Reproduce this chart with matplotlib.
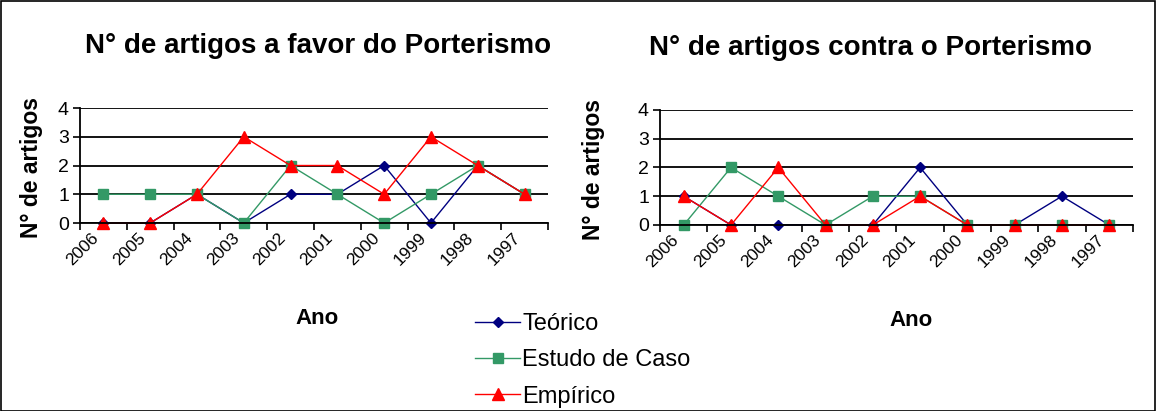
import numpy as np
import matplotlib
matplotlib.use('Agg')
import matplotlib.pyplot as plt
from matplotlib.patches import Rectangle

plt.rcParams['font.family'] = ['Liberation Sans', 'DejaVu Sans']

anos = ['2006', '2005', '2004', '2003', '2002', '2001', '2000', '1999', '1998', '1997']

# a favor
fav_teorico = [0, 0, 1, 0, 1, 1, 2, 0, 2, 1]
fav_caso = [1, 1, 1, 0, 2, 1, 0, 1, 2, 1]
fav_empirico = [0, 0, 1, 3, 2, 2, 1, 3, 2, 1]

# contra
con_teorico = [1, 0, 0, 0, 0, 2, 0, 0, 1, 0]
con_caso = [0, 2, 1, 0, 1, 1, 0, 0, 0, 0]
con_empirico = [1, 0, 2, 0, 0, 1, 0, 0, 0, 0]

cor_teo = '#000080'
cor_caso = '#339966'
cor_emp = '#FF0000'

fig = plt.figure(figsize=(11.56, 4.11), dpi=100)
fig.patches.append(Rectangle((0.0008, 0.0), 0.998, 0.997, transform=fig.transFigure,
                             fill=False, edgecolor='black', linewidth=1.2))

ax1 = fig.add_axes([0.0692, 0.4574, 0.4048, 0.2798])
ax2 = fig.add_axes([0.571, 0.4526, 0.409, 0.2798])


def desenha(ax, teo, caso, emp, titulo, tx, ylx, anox):
    x = np.arange(len(anos))
    l1, = ax.plot(x, teo, color=cor_teo, marker='D', markersize=5, linewidth=1,
                  label='Teórico', clip_on=False)
    l2, = ax.plot(x, caso, color=cor_caso, marker='s', markersize=7, linewidth=1,
                  label='Estudo de Caso', clip_on=False)
    l3, = ax.plot(x, emp, color=cor_emp, marker='^', markersize=8, linewidth=1,
                  label='Empírico', clip_on=False)
    ax.set_xlim(-0.5, len(anos) - 0.5)
    ax.set_ylim(0, 4)
    ax.set_yticks([0, 1, 2, 3, 4])
    ax.set_xticks(np.arange(-0.5, len(anos)), labels=[])
    ax.set_xticks(x - 0.15, minor=True)
    ax.set_xticklabels(anos, minor=True, rotation=45, ha='right', va='center',
                       rotation_mode='anchor', fontsize=12.5)
    ax.tick_params(axis='x', which='minor', length=0, pad=9)
    ax.tick_params(axis='x', which='major', length=5, width=1.2)
    ax.tick_params(axis='y', length=5, width=1.2, labelsize=14, pad=3)
    ax.yaxis.grid(True, color='black', linewidth=1.3)
    ax.set_axisbelow(True)
    for s in ['top', 'right']:
        ax.spines[s].set_visible(False)
    ax.spines['left'].set_linewidth(1.3)
    ax.spines['bottom'].set_linewidth(1.3)
    ax.text(tx, 1.54, titulo, transform=ax.transAxes, ha='center', va='center',
            fontsize=20, fontweight='bold')
    ax.set_xlabel('Ano', fontsize=16, fontweight='bold')
    ax.xaxis.set_label_coords(anox, -0.74)
    ax.set_ylabel('N° de artigos', fontsize=16.5, fontweight='bold', va='center')
    ax.yaxis.set_label_coords(ylx, 0.48)
    return [l1, l2, l3]


linhas = desenha(ax1, fav_teorico, fav_caso, fav_empirico,
                 'N° de artigos a favor do Porterismo', 0.508, -0.103, 0.506)
desenha(ax2, con_teorico, con_caso, con_empirico,
        'N° de artigos contra o Porterismo', 0.445, -0.14, 0.53)

fig.legend(handles=linhas, loc='upper left', bbox_to_anchor=(0.411, 0.238), frameon=False,
           fontsize=17, labelspacing=0.6, handlelength=1.9, handletextpad=0.1,
           borderpad=0, borderaxespad=0)

fig.savefig('out.png', dpi=100)
